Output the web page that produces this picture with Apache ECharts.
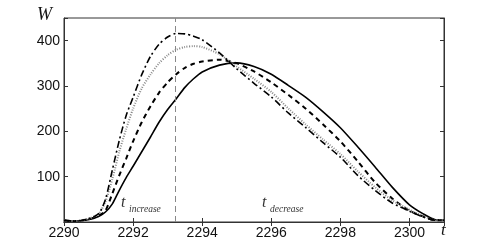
<!DOCTYPE html>
<html><head><meta charset="utf-8">
<script src="https://cdn.jsdelivr.net/npm/echarts@6/dist/echarts.min.js"></script>
<style>html,body{margin:0;padding:0;background:#fff}#c{width:491px;height:250px}</style>
</head><body><div id="c"></div>
<script>
const T = [2290, 2290.3, 2290.7, 2291, 2291.2, 2291.4, 2291.6, 2291.8, 2292, 2292.25, 2292.5, 2292.75, 2293, 2293.25, 2293.5, 2293.75, 2294, 2294.5, 2295, 2295.5, 2296, 2296.5, 2297, 2297.5, 2298, 2298.5, 2299, 2299.5, 2300, 2300.4, 2300.75, 2301];
const wSolid   = [4, 2, 5, 12, 22, 40, 70, 98, 123, 155, 187, 220, 248, 272, 297, 316, 331, 346, 351, 343, 326, 301, 275, 243, 208, 166, 122, 77, 38, 18, 5, 4];
const wDashed  = [4, 2, 6, 14, 25, 63, 103, 140, 178, 220, 255, 285, 308, 326, 340, 349, 354, 358, 350, 332, 308, 280, 250, 215, 178, 134, 88, 52, 25, 12, 4, 4];
const wDotted  = [4, 2, 7, 18, 45, 95, 155, 205, 250, 295, 325, 350, 368, 380, 386, 388, 386, 370, 343, 316, 287, 250, 215, 182, 150, 112, 77, 48, 27, 13, 4, 4];
const wDashDot = [4, 2, 7, 18, 50, 115, 180, 235, 275, 325, 365, 392, 408, 416, 415, 410, 402, 373, 338, 306, 276, 240, 208, 175, 143, 103, 70, 42, 24, 11, 4, 4];
const xTicks = [2290, 2292, 2294, 2296, 2298, 2300];
const yTicks = [100, 200, 300, 400];
const tSwitch = 2293.23;

const pair = w => T.map((t, i) => [t, w[i]]);
const frame = '#333';
const lblFont = {fontFamily: 'Liberation Sans', fontSize: 14, color: '#111'};
const chart = echarts.init(document.getElementById('c'), null, {renderer: 'canvas'});
const mkLine = (name, data, style) => ({
  name, type: 'line', data: pair(data), showSymbol: false, smooth: 0.25,
  lineStyle: style, xAxisIndex: 0, yAxisIndex: 0, z: 3
});
chart.setOption({
  animation: false,
  grid: {left: 64, right: 47, top: 18, bottom: 28, show: true, borderColor: frame, borderWidth: 1},
  xAxis: [{
    type: 'value', min: 2290, max: 2301, interval: 2,
    axisLine: {show: true, lineStyle: {color: frame}},
    axisTick: {show: true, inside: true, length: 4, lineStyle: {color: frame}},
    axisLabel: Object.assign({margin: 4, formatter: v => xTicks.includes(v) ? String(v) : ''}, lblFont),
    splitLine: {show: false}
  }, {
    type: 'value', min: 2290, max: 2301, interval: 2, position: 'top',
    axisLine: {show: true, lineStyle: {color: frame}},
    axisTick: {show: true, inside: true, length: 4, lineStyle: {color: frame}},
    axisLabel: {show: false}, splitLine: {show: false}
  }],
  yAxis: [{
    type: 'value', min: 0, max: 450, interval: 100,
    axisLine: {show: true, lineStyle: {color: frame}},
    axisTick: {show: true, inside: true, length: 4, lineStyle: {color: frame}},
    axisLabel: Object.assign({margin: 4, formatter: v => yTicks.includes(v) ? String(v) : ''}, lblFont),
    splitLine: {show: false}
  }, {
    type: 'value', min: 0, max: 450, interval: 100, position: 'right',
    axisLine: {show: true, lineStyle: {color: frame}},
    axisTick: {show: true, inside: true, length: 4, lineStyle: {color: frame}},
    axisLabel: {show: false}, splitLine: {show: false}
  }],
  series: [
    Object.assign(mkLine('solid', wSolid, {color: '#000', width: 1.6, type: 'solid'}), {
      markLine: {
        silent: true, symbol: 'none', label: {show: false},
        lineStyle: {color: '#888', width: 1, type: [6, 4]},
        data: [{xAxis: tSwitch}]
      }
    }),
    mkLine('dashed', wDashed, {color: '#000', width: 2, type: [5, 4]}),
    mkLine('dotted', wDotted, {color: '#888', width: 2, type: [1, 1.5]}),
    mkLine('dashdot', wDashDot, {color: '#000', width: 1.6, type: [7, 3, 2, 3]})
  ],
  graphic: [
    {type: 'text', left: 37, top: 6, style: {text: 'W', font: 'italic 18px "Liberation Serif"', fill: '#111'}},
    {type: 'text', left: 441, top: 222, style: {text: 't', font: 'italic 17px "Liberation Serif"', fill: '#111'}},
    {type: 'text', left: 121, top: 195, style: {text: 't', font: 'italic 16px "Liberation Serif"', fill: '#333'}},
    {type: 'text', left: 129, top: 204, style: {text: 'increase', font: 'italic 9.5px "Liberation Serif"', fill: '#333'}},
    {type: 'text', left: 262, top: 195, style: {text: 't', font: 'italic 16px "Liberation Serif"', fill: '#333'}},
    {type: 'text', left: 270, top: 204, style: {text: 'decrease', font: 'italic 9.5px "Liberation Serif"', fill: '#333'}}
  ]
});
</script></body></html>
